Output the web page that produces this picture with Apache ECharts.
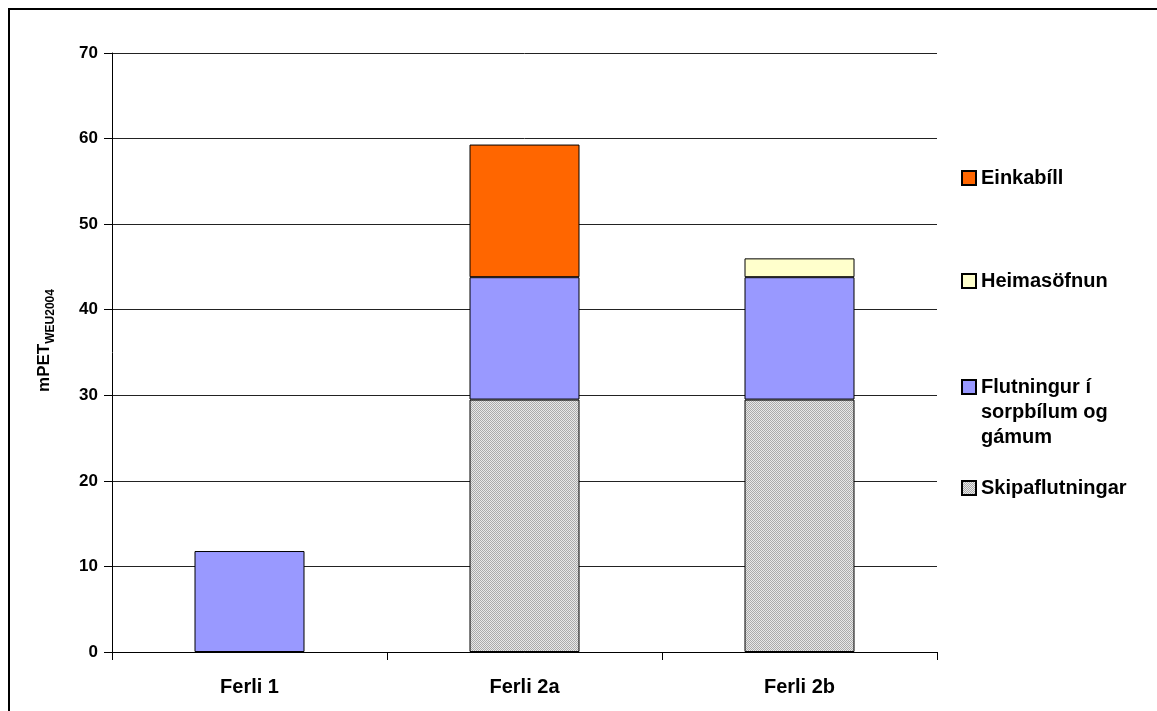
<!DOCTYPE html>
<html><head><meta charset="utf-8">
<script src="https://cdn.jsdelivr.net/npm/echarts@6/dist/echarts.min.js"></script>
<style>html,body{margin:0;padding:0;background:#fff}#c{width:1157px;height:711px}</style>
</head><body><div id="c"></div>
<script>
const categories = ['Ferli 1', 'Ferli 2a', 'Ferli 2b'];
const skipaflutningar = ['-', 29.5, 29.5];
const flutningur = [11.8, 14.3, 14.3];
const heimasofnun = ['-', '-', 2.2];
const einkabill = ['-', 15.5, '-'];
const yTicks = [0, 10, 20, 30, 40, 50, 60, 70];

const pc = document.createElement('canvas');
pc.width = 2; pc.height = 2;
const pctx = pc.getContext('2d');
pctx.fillStyle = '#e8e8e8'; pctx.fillRect(0,0,2,2);
pctx.fillStyle = '#aaaaaa'; pctx.fillRect(0,0,1,1); pctx.fillRect(1,1,1,1);
const grayPattern = {image: pc, repeat: 'repeat'};

const chart = echarts.init(document.getElementById('c'));
const font = 'Liberation Sans, Arial, sans-serif';
const border = {borderColor: '#000', borderWidth: 1};
const LH = 25;
function legendItem(name, top, formatter) {
  const l = {
    data: [name], left: 956, top: top, orient: 'vertical',
    itemWidth: 14, itemHeight: 14, itemGap: 0, itemTextGap: 8, icon: 'rect',
    selectedMode: false,
    textStyle: {fontFamily: font, fontWeight: 'bold', fontSize: 20, color: '#000', lineHeight: LH}
  };
  if (formatter) l.formatter = formatter;
  return l;
}
chart.setOption({
  animation: false,
  backgroundColor: '#fff',
  graphic: [{type: 'rect', shape: {x: 9, y: 9, width: 1160, height: 720}, style: {fill: 'none', stroke: '#000', lineWidth: 2}, silent: true}],
  grid: {left: 112, right: 220, top: 53, bottom: 59},
  legend: [
    legendItem('Einkabíll', 173 - LH / 2),
    legendItem('Heimasöfnun', 276 - LH / 2),
    legendItem('Flutningur í\nsorpbílum og\ngámum', 382 - LH * 2.5, n => ' \n \n' + n),
    legendItem('Skipaflutningar', 483 - LH / 2)
  ],
  xAxis: {
    type: 'category', data: categories,
    axisLine: {lineStyle: {color: '#000', width: 1}},
    axisTick: {show: true, alignWithLabel: false, length: 8, lineStyle: {color: '#000'}},
    axisLabel: {margin: 25, fontFamily: font, fontWeight: 'bold', fontSize: 20, color: '#000'}
  },
  yAxis: {
    type: 'value', min: 0, max: 70, interval: 10,
    name: '{a|mPET}{b|WEU2004}', nameLocation: 'middle', nameGap: 59, nameRotate: 90,
    nameTextStyle: {
      rich: {
        a: {fontFamily: font, fontWeight: 'bold', fontSize: 17, color: '#000', lineHeight: 24, verticalAlign: 'bottom'},
        b: {fontFamily: font, fontWeight: 'bold', fontSize: 12, color: '#000', lineHeight: 24, verticalAlign: 'bottom', padding: [0,0,-4,0]}
      },
      padding: [0, 0, 0, 24]
    },
    axisLine: {show: true, lineStyle: {color: '#000', width: 1}},
    axisTick: {show: true, length: 8, lineStyle: {color: '#000'}},
    axisLabel: {margin: 14, fontFamily: font, fontWeight: 'bold', fontSize: 17, color: '#000',
      formatter: v => yTicks.includes(v) ? String(v) : ''},
    splitLine: {show: true, lineStyle: {color: '#222', width: 1}}
  },
  series: [
    {name: 'Skipaflutningar', type: 'bar', stack: 's', data: skipaflutningar, barWidth: '40%', itemStyle: Object.assign({color: grayPattern}, border)},
    {name: 'Flutningur í\nsorpbílum og\ngámum', type: 'bar', stack: 's', data: flutningur, itemStyle: Object.assign({color: '#9999FF'}, border)},
    {name: 'Heimasöfnun', type: 'bar', stack: 's', data: heimasofnun, itemStyle: Object.assign({color: '#FFFFCC'}, border)},
    {name: 'Einkabíll', type: 'bar', stack: 's', data: einkabill, itemStyle: Object.assign({color: '#FF6600'}, border)}
  ]
});
</script></body></html>
